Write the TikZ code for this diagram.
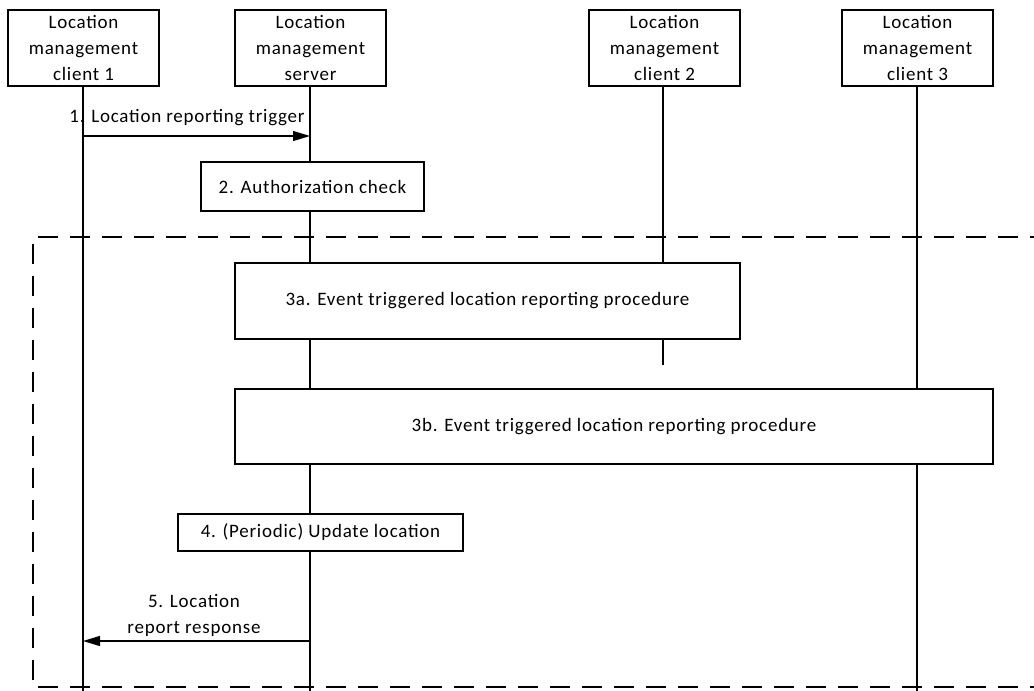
\documentclass[tikz,border=0pt]{standalone}
\usepackage{fontspec}
\setmainfont{Carlito}[LetterSpace=4]
\usetikzlibrary{arrows.meta,positioning}

\tikzset{
  entity/.style={draw, line width=1.3pt, fill=white, minimum width=151pt,
    minimum height=76pt, align=center, inner sep=0pt},
  stepbox/.style={draw, line width=1.3pt, fill=white, align=center, inner sep=0pt},
  lifeline/.style={line width=2.8pt},
  msg/.style={line width=1.3pt, -{Triangle[length=17pt,width=10pt]}},
  frame/.style={line width=2.8pt, dash pattern=on 20pt off 12pt},
}

\begin{document}
\begin{tikzpicture}[x=1pt, y=-1pt, font=\fontsize{19pt}{26pt}\selectfont]
\useasboundingbox (0,0) rectangle (1034,691);
% participants
\node[entity] (lmc1) at (83.5,48) {Location\\management\\client 1};
\node[entity] (lms) at (310.5,48) {Location\\management\\server};
\node[entity] (lmc2) at (664.5,48) {Location\\management\\client 2};
\node[entity] (lmc3) at (917.5,48) {Location\\management\\client 3};
\coordinate (end1) at (83,691);
\coordinate (ends) at (310,691);
\coordinate (end2) at (663,365);
\coordinate (end3) at (917,691);
% lifelines
\draw[lifeline] (lmc1.south -| end1) -- (end1);
\draw[lifeline] (lms.south -| ends) -- (ends);
\draw[lifeline] (lmc2.south -| end2) -- (end2);
\draw[lifeline] (lmc3.south -| end3) -- (end3);
% dashed frame
\draw[frame] (1050,237) -- (33,237) -- (33,687) -- (1050,687);
% 1
\coordinate (m1) at (0,136);
\draw[msg] (end1 |- m1) -- (ends |- m1);
\node (lbl1) at (187,118) {1. Location reporting trigger};
% boxes
\node[stepbox, minimum width=223pt, minimum height=49pt] (auth) at (312.5,186.5) {2. Authorization check};
\node[stepbox, minimum width=505pt, minimum height=76pt] (ev3a) at (487.5,301) {3a. Event triggered location reporting procedure};
\node[stepbox, minimum width=758pt, minimum height=75pt] (ev3b) at (614,426.5) {3b. Event triggered location reporting procedure};
\node[stepbox, minimum width=285pt, minimum height=37pt] (upd) at (320.5,532.5) {4. (Periodic) Update location};
% 5
\coordinate (m5) at (0,641);
\draw[msg] (ends |- m5) -- (end1 |- m5);
\node[align=center] (lbl5) at (194,615) {5. Location\\report response};
\end{tikzpicture}
\end{document}
